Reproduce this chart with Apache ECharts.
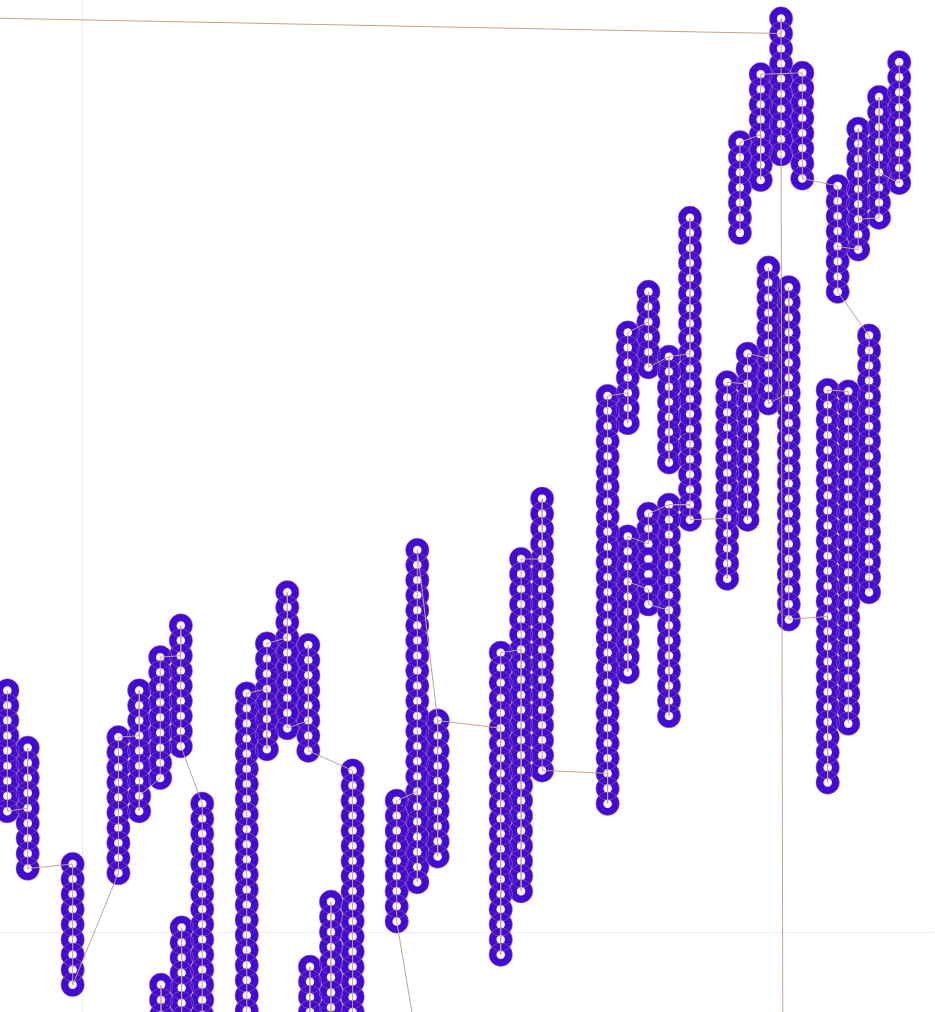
<!DOCTYPE html>
<html>
<head>
<meta charset="utf-8">
<title>columns</title>
<script src="https://cdn.jsdelivr.net/npm/echarts@6/dist/echarts.min.js"></script>
<style>
  html, body { margin: 0; padding: 0; background: #fff; }
  #main { width: 935px; height: 1012px; }
</style>
</head>
<body>
<div id="main"></div>
<script>
// columns of boxes: x position, value of the top box, number of boxes
var colNames = ['A', 'B', 'C', 'D', 'E', 'F', 'G', 'H', 'I', 'J', 'K', 'L', 'M', 'N', 'O', 'P', 'Q',
    'R', 'Roff', 'S', 'T', 'U', 'V', 'W', 'X', 'Y', 'Z', 'AA', 'AB', 'AC', 'AD', 'AE',
    'AF', 'AG', 'AH', 'AI', 'AJ', 'AK', 'AL', 'AM', 'AN', 'AO', 'AP', 'AQ', 'AR', 'AS', 'AT',
    'OffL', 'OffB'];
var colX = [-3.59, -2.61, -0.45, 1.75, 2.75, 3.76, 4.75, 5.78, 4.79, 3.80, 7.92, 8.89, 9.87, 10.88, 13.01, 11.97, 10.96,
    15.13, 16.25, 16.12, 17.10, 20.13, 21.11, 22.12, 25.27, 26.24, 27.23, 28.22, 29.23, 26.24, 27.23, 28.22,
    31.02, 32.00, 33.00, 33.98, 31.63, 32.63, 33.61, 34.63, 35.85, 36.84, 37.84, 36.33, 37.32, 38.32, 39.29,
    -18.4, 33.7];
var colTop = [16.0, 12.2, 4.5, 12.9, 16.0, 18.2, 20.3, 8.5, 0.3, -3.5, 15.8, 19.1, 22.5, 19.0, 10.7, 2.0, -2.3,
    8.7, -8.5, 25.3, 14.0, 18.5, 24.7, 28.7, 35.5, 39.7, 42.4, 38.1, 47.3, 26.2, 27.7, 28.3,
    36.4, 38.3, 44.0, 42.7, 52.3, 56.8, 60.5, 56.9, 35.9, 35.8, 39.5, 49.4, 53.2, 55.3, 57.6,
    60.9, -11.1];
var colCount = [9, 9, 9, 10, 9, 9, 9, 16, 8, 3, 23, 8, 10, 8, 18, 9, 5,
    9, 1, 23, 10, 21, 23, 19, 28, 7, 6, 8, 21, 10, 7, 15,
    14, 12, 10, 23, 7, 8, 10, 8, 27, 23, 18, 8, 9, 9, 9,
    1, 1];

// the connecting line: [column, box index from the top]
var pathMain = [['A', 0], ['A', 8], ['B', 4], ['B', 0], ['B', 8], ['C', 0], ['C', 8], ['D', 9], ['D', 0],
    ['E', 3], ['E', 0], ['E', 8], ['E', 7], ['F', 8], ['F', 0], ['G', 2], ['G', 0], ['G', 8],
    ['H', 0], ['H', 15], ['I', 7], ['I', 0], ['I', 7], ['J', 2], ['J', 0], ['J', 2], ['K', 22], ['K', 0],
    ['L', 3], ['L', 7], ['L', 0], ['M', 3], ['M', 0], ['M', 9], ['N', 5], ['N', 0], ['N', 7],
    ['O', 0], ['O', 17], ['P', 8], ['P', 0], ['P', 8], ['Q', 4], ['Q', 0], ['Q', 4], ['Roff', 0],
    ['R', 8], ['R', 0], ['S', 16], ['S', 22], ['S', 0], ['T', 0], ['T', 9], ['T', 0],
    ['U', 5], ['U', 20], ['U', 0], ['V', 6], ['V', 22], ['V', 0], ['W', 4], ['W', 0], ['W', 18],
    ['X', 25], ['X', 27], ['X', 0], ['Y', 4], ['Y', 6], ['Y', 0], ['Z', 2], ['Z', 0], ['Z', 5],
    ['AA', 0], ['AA', 7], ['AA', 0], ['AB', 9], ['AB', 0], ['AB', 19], ['AE', 0], ['AD', 0], ['AD', 2],
    ['AC', 0], ['AC', 9], ['AC', 3], ['AD', 5], ['AD', 6], ['AE', 7], ['AE', 14], ['AE', 0],
    ['AB', 19], ['AB', 20], ['AF', 9], ['AF', 13], ['AF', 0], ['AG', 2], ['AG', 11], ['AG', 0],
    ['AH', 6], ['AH', 0], ['AH', 9], ['AI', 7], ['AI', 0], ['AI', 22], ['AN', 15], ['AN', 26], ['AN', 0],
    ['AO', 0], ['AO', 22]];
var pathTop = [['AP', 17], ['AP', 0], ['AQ', 7], ['AQ', 0], ['AM', 7], ['AM', 0], ['AK', 0], ['AK', 7],
    ['AK', 4], ['AJ', 0], ['AJ', 6]];
var pathRight = [['AQ', 4], ['AR', 8], ['AR', 0], ['AR', 6], ['AS', 8], ['AS', 0], ['AS', 5], ['AT', 8], ['AT', 0]];
var pathLong = [['OffL', 0], ['AL', 1], ['AL', 0], ['AL', 9], ['OffB', 0]];

var ringColor = '#4209d9';
var lineColor = '#c2a48c';

function boxPoint(ref) {
    var i = colNames.indexOf(ref[0]);
    return [colX[i], +(colTop[i] - ref[1]).toFixed(2)];
}

var boxes = [];
colNames.forEach(function (name, i) {
    for (var k = 0; k < colCount[i]; k++) {
        boxes.push(boxPoint([name, k]));
    }
});

var myChart = echarts.init(document.getElementById('main'));

function pathSeries(path) {
    return {
        type: 'line',
        data: path.map(boxPoint),
        showSymbol: false,
        silent: true,
        z: 4,
        lineStyle: { color: lineColor, width: 1 }
    };
}

var option = {
    animation: false,
    backgroundColor: '#fff',
    // the grid is larger than the page, only a small window of it is visible
    grid: { left: -958, top: -578, width: 2080, height: 3020, outerBoundsMode: 'none' },
    xAxis: {
        type: 'value',
        min: -50,
        max: 50,
        interval: 50,
        axisLine: { show: false },
        axisTick: { show: false },
        axisLabel: { show: false },
        splitLine: { lineStyle: { color: '#ebebeb', width: 1 } }
    },
    yAxis: {
        type: 'value',
        min: -100,
        max: 100,
        interval: 100,
        axisLine: { show: false },
        axisTick: { show: false },
        axisLabel: { show: false },
        splitLine: { lineStyle: { color: '#e6e6e6', width: 1, type: [2, 1] } }
    },
    series: [
        {
            type: 'scatter',
            data: boxes,
            symbol: 'circle',
            symbolSize: 16,
            silent: true,
            z: 2,
            itemStyle: { color: '#fff', borderColor: ringColor, borderWidth: 7.5, opacity: 1 }
        },
        {
            type: 'scatter',
            data: boxes,
            symbol: 'circle',
            symbolSize: 23.5,
            silent: true,
            z: 3,
            itemStyle: { color: 'rgba(0,0,0,0)', borderColor: 'rgba(175,135,105,0.6)', borderWidth: 0.8, opacity: 1 }
        },
        pathSeries(pathMain),
        pathSeries(pathTop),
        pathSeries(pathRight),
        pathSeries(pathLong)
    ]
};

myChart.setOption(option);
</script>
</body>
</html>
